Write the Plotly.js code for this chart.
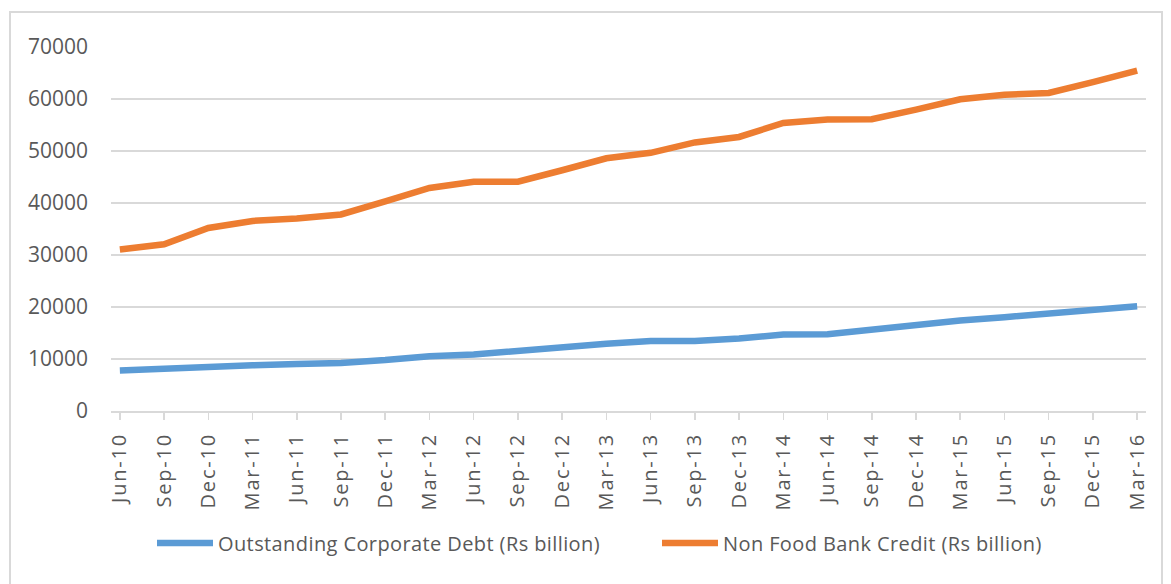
<!DOCTYPE html>
<html>
<head>
<meta charset="utf-8">
<script src="https://cdn.plot.ly/plotly-3.0.1.min.js"></script>
<style>
  html, body { margin: 0; padding: 0; background: #ffffff; }
  #chart { width: 1171px; height: 584px; }
  #chart .xtick text { letter-spacing: 1.8px; }
  #chart .legendtext { letter-spacing: 0.4px; }
</style>
</head>
<body>
<div id="chart"></div>
<script>
const quarters = ["Jun-10","Sep-10","Dec-10","Mar-11","Jun-11","Sep-11","Dec-11","Mar-12",
  "Jun-12","Sep-12","Dec-12","Mar-13","Jun-13","Sep-13","Dec-13","Mar-14",
  "Jun-14","Sep-14","Dec-14","Mar-15","Jun-15","Sep-15","Dec-15","Mar-16"];

const corporateDebt = [7800, 8200, 8450, 8800, 9050, 9250, 9800, 10550,
  10850, 11600, 12050, 12950, 13450, 13450, 13950, 14700,
  14750, 15700, 16450, 17400, 18050, 18700, 19250, 20150];

const nonFoodCredit = [31050, 32050, 35200, 36550, 37000, 37800, 40300, 42900,
  44100, 44100, 46300, 48600, 49650, 51650, 52700, 55400,
  56050, 56100, 57950, 59950, 60800, 61150, 63250, 65450];

const seriesNames = ["Outstanding Corporate Debt (Rs billion)", "Non Food Bank Credit (Rs billion)"];
const yTicks = [0, 10000, 20000, 30000, 40000, 50000, 60000, 70000];

const traces = [
  { x: quarters, y: corporateDebt, name: seriesNames[0], type: "scatter", mode: "lines",
    line: { color: "#5B9BD5", width: 6.5 } },
  { x: quarters, y: nonFoodCredit, name: seriesNames[1], type: "scatter", mode: "lines",
    line: { color: "#ED7D31", width: 6.5 } }
];

const layout = {
  width: 1171, height: 584,
  margin: { l: 111, r: 25, t: 47, b: 173 },
  paper_bgcolor: "#ffffff", plot_bgcolor: "#ffffff",
  font: { family: "Open Sans, sans-serif", color: "#595959" },
  showlegend: true,
  xaxis: {
    type: "category",
    range: [-0.2, 23.2],
    showgrid: false,
    showline: true, linecolor: "#d9d9d9", linewidth: 2,
    ticks: "outside", ticklen: 7, tickcolor: "#d9d9d9", tickwidth: 1.5,
    tickangle: -90,
    ticklabelstandoff: 5,
    tickfont: { size: 20, color: "#595959" },
    fixedrange: true
  },
  yaxis: {
    range: [0, 70000],
    tickvals: yTicks,
    ticktext: yTicks.map(String),
    showgrid: true, gridcolor: "#d9d9d9", gridwidth: 2,
    zeroline: false,
    showline: false,
    ticks: "",
    ticklabelstandoff: 22,
    tickfont: { size: 21, color: "#595959" },
    fixedrange: true
  },
  legend: {
    orientation: "h",
    xref: "container", yref: "container",
    x: 152 / 1171, xanchor: "left",
    y: 1 - 543 / 584, yanchor: "middle",
    entrywidth: 434, entrywidthmode: "pixels",
    font: { size: 20, color: "#595959" },
    itemwidth: 56,
    bgcolor: "rgba(0,0,0,0)"
  },
  shapes: [
    { type: "rect", xref: "paper", yref: "paper",
      x0: (10 - 111) / 1035, x1: (1162 - 111) / 1035,
      y0: (584 - 173 - 600) / 364, y1: (584 - 173 - 12) / 364,
      line: { color: "#d9d9d9", width: 2 }, fillcolor: "rgba(0,0,0,0)", layer: "below" }
  ]
};

Plotly.newPlot("chart", traces, layout, { displayModeBar: false, staticPlot: true });
</script>
</body>
</html>
